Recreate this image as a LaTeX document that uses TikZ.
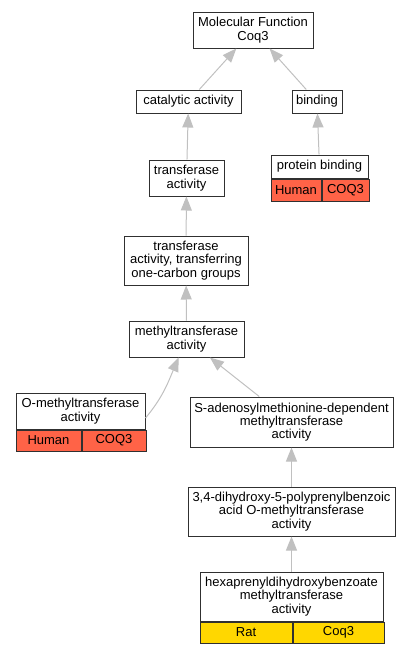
\documentclass[tikz,border=0pt]{standalone}
\usepackage{fontspec}
\setmainfont{Liberation Sans}
\usetikzlibrary{arrows.meta}
\definecolor{humanred}{HTML}{FF6347}
\definecolor{ratgold}{HTML}{FFD700}
\definecolor{edgegray}{HTML}{C0C0C0}
\definecolor{boxline}{HTML}{303030}

\tikzset{
  term/.style={draw=boxline, line width=1pt, fill=white, inner sep=0pt, align=center,
    font=\fontsize{13}{13.3}\selectfont},
  cell/.style={term, anchor=north west, minimum height=21pt},
  isa/.style={draw=edgegray, line width=1pt, -{Triangle[length=14pt,width=11pt]}}
}

\begin{document}
\begin{tikzpicture}[x=1pt,y=-1pt]

\useasboundingbox (0,0) rectangle (409,653);

\node[term, minimum width=120pt, minimum height=36pt] (mf) at (253,30) {Molecular Function\\Coq3};

\node[term, minimum width=105pt, minimum height=23pt] (cat) at (188.5,101.5) {catalytic activity};
\node[term, minimum width=50pt, minimum height=23pt] (bind) at (317,101.5) {binding};

\node[term, minimum width=75pt, minimum height=36pt] (trans) at (186.5,178) {transferase\\activity};
\node[term, minimum width=97pt, minimum height=23pt] (pb) at (319.5,166.5) {protein binding};
\node[cell, fill=humanred, minimum width=50pt, minimum height=22pt] (pbA) at (pb.south west) {Human};
\node[cell, fill=humanred, minimum width=47pt, minimum height=22pt] (pbB) at (pbA.north east) {COQ3};

\node[term, minimum width=124pt, minimum height=49pt] (onec) at (186,260.5) {transferase\\activity, transferring\\one-carbon groups};

\node[term, minimum width=115pt, minimum height=36pt] (mt) at (186.5,339) {methyltransferase\\activity};

\node[term, minimum width=129pt, minimum height=36pt] (omt) at (80.5,411) {O-methyltransferase\\activity};
\node[cell, fill=humanred, minimum width=65pt] (omtA) at (omt.south west) {Human};
\node[cell, fill=humanred, minimum width=64pt] (omtB) at (omtA.north east) {COQ3};

\node[term, minimum width=203pt, minimum height=50pt] (sam) at (291.5,422) {S-adenosylmethionine-dependent\\methyltransferase\\activity};

\node[term, minimum width=207pt, minimum height=49pt] (dhp) at (291.5,511.5) {3,4-dihydroxy-5-polyprenylbenzoic\\acid O-methyltransferase\\activity};

\node[term, minimum width=183pt, minimum height=49pt] (hexa) at (291.5,596.5) {hexaprenyldihydroxybenzoate\\methyltransferase\\activity};
\node[cell, fill=ratgold, minimum width=92pt] (hexaA) at (hexa.south west) {Rat};
\node[cell, fill=ratgold, minimum width=91pt] (hexaB) at (hexaA.north east) {Coq3};

\draw[isa] (cat) -- (mf);
\draw[isa] (bind) -- (mf);
\draw[isa] (trans) -- (cat);
\draw[isa] (pb) -- (bind);
\draw[isa] (onec) -- (trans);
\draw[isa] (mt) -- (onec);
\draw[isa] ([yshift=-7pt]omt.east) to[out=50,in=-113] (mt);
\draw[isa] (sam) -- (mt);
\draw[isa] (dhp) -- (sam);
\draw[isa] (hexa) -- (dhp);

\end{tikzpicture}
\end{document}
